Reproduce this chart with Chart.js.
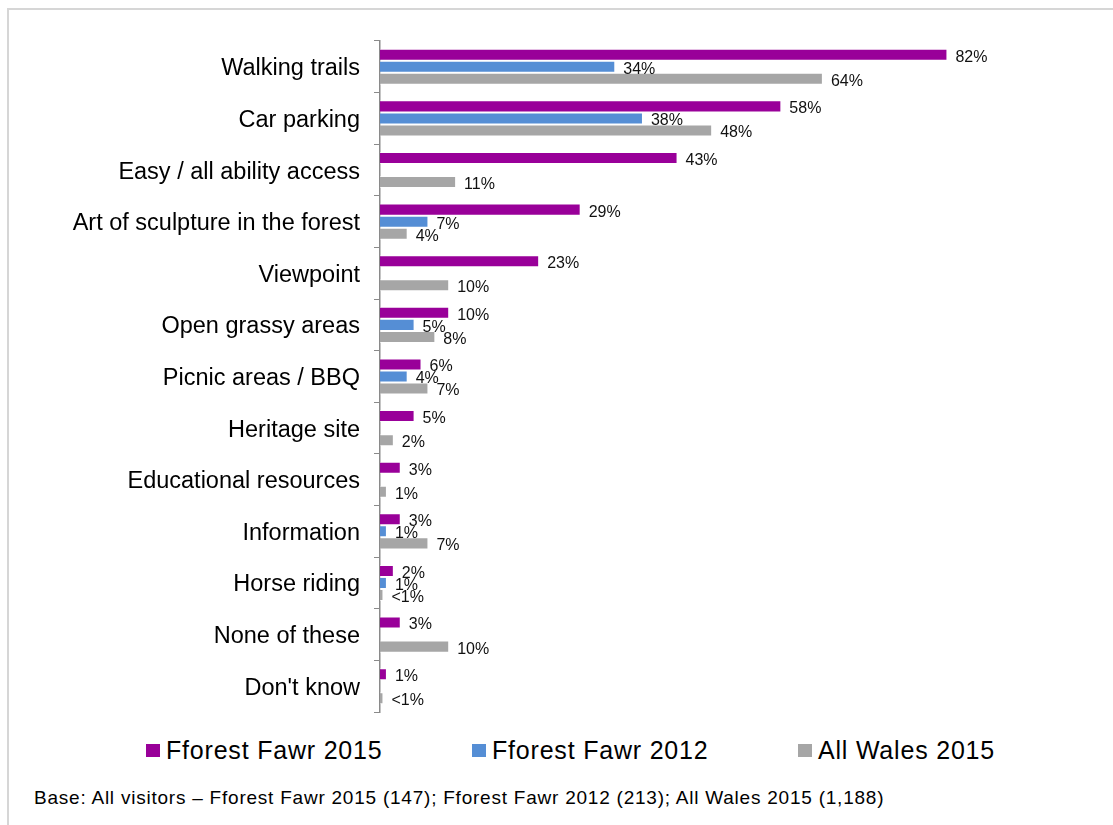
<!DOCTYPE html>
<html>
<head>
<meta charset="utf-8">
<title>Facilities used – Fforest Fawr</title>
<script src="https://cdn.jsdelivr.net/npm/chart.js@4.4.1/dist/chart.umd.min.js"></script>
<style>
  html, body { margin: 0; padding: 0; background: #fff; overflow: hidden; }
  body { width: 1113px; height: 825px; position: relative; font-family: "Liberation Sans", Arial, sans-serif; }
  #frame { position: absolute; left: 7px; top: 8px; width: 1200px; height: 900px;
           border-left: 2px solid #d6d6d6; border-top: 2px solid #d6d6d6; }
  #chart { position: absolute; left: 0; top: 0; }
  #legend { position: absolute; left: 146px; top: 733px; width: 849px; height: 34px;
            display: flex; justify-content: space-between; align-items: center; }
  #legend .item { display: flex; align-items: center; white-space: nowrap; }
  #legend .swatch { display: inline-block; width: 14px; height: 13px; margin-right: 6px; }
  #legend .text { font-size: 25px; letter-spacing: 0.8px; color: #000; line-height: 34px; }
  #note { position: absolute; left: 34px; top: 788px; font-size: 19px; letter-spacing: 0.77px;
          line-height: 20px; color: #000; white-space: nowrap; }
</style>
</head>
<body>
<div id="frame"></div>
<canvas id="chart" width="1113" height="720"></canvas>
<div id="legend"></div>
<div id="note">Base: All visitors – Fforest Fawr 2015 (147); Fforest Fawr 2012 (213); All Wales 2015 (1,188)</div>
<script>
// Facilities, in display order (top to bottom)
const categories = [
  'Walking trails',
  'Car parking',
  'Easy / all ability access',
  'Art of sculpture in the forest',
  'Viewpoint',
  'Open grassy areas',
  'Picnic areas / BBQ',
  'Heritage site',
  'Educational resources',
  'Information',
  'Horse riding',
  'None of these',
  "Don't know"
];

// Percent of visitors; null = not asked in that survey, 0.5 = under 1%
const fforestFawr2015 = [82, 58, 43, 29, 23, 10, 6, 5, 3, 3, 2, 3, 1];
const fforestFawr2012 = [34, 38, null, 7, null, 5, 4, null, null, 1, 1, null, null];
const allWales2015    = [64, 48, 11, 4, 10, 8, 7, 2, 1, 7, 0.5, 10, 0.5];

const seriesNames  = ['Fforest Fawr 2015', 'Fforest Fawr 2012', 'All Wales 2015'];
const seriesColors = ['#990099', '#558ed5', '#a6a6a6'];

const FONT = '"Liberation Sans", Arial, sans-serif';

function pctText(v) {
  return v < 1 ? '<1%' : Math.round(v) + '%';
}

// Writes the percentage just past the end of each bar
const valueLabels = {
  id: 'valueLabels',
  afterDatasetsDraw(chart) {
    const ctx = chart.ctx;
    ctx.save();
    ctx.font = '16px ' + FONT;
    ctx.fillStyle = '#111';
    ctx.textAlign = 'left';
    ctx.textBaseline = 'middle';
    chart.data.datasets.forEach((ds, i) => {
      const meta = chart.getDatasetMeta(i);
      meta.data.forEach((bar, j) => {
        const v = ds.data[j];
        if (v === null || v === undefined) return;
        ctx.fillText(pctText(v), bar.x + 8, bar.y + 2.5);
      });
    });
    ctx.restore();
  }
};

const seriesData = [fforestFawr2015, fforestFawr2012, allWales2015];

const chart = new Chart(document.getElementById('chart'), {
  type: 'bar',
  data: {
    labels: categories,
    datasets: seriesData.map((d, i) => ({
      label: seriesNames[i],
      data: d,
      backgroundColor: seriesColors[i],
      borderColor: 'rgba(255,255,255,0.55)',
      borderWidth: 1,
      categoryPercentage: 0.7,
      barPercentage: 1.0
    }))
  },
  options: {
    indexAxis: 'y',
    responsive: false,
    animation: false,
    devicePixelRatio: 1,
    layout: { padding: { top: 41, right: 41, bottom: 8, left: 0 } },
    plugins: {
      legend: { display: false },
      tooltip: { enabled: false },
      title: { display: false }
    },
    scales: {
      x: {
        display: false,
        min: 0,
        max: 100
      },
      y: {
        afterFit(scale) {
          scale.width = 380;
          scale.paddingTop = 0;
          scale.paddingBottom = 0;
        },
        ticks: {
          autoSkip: false,
          color: '#000',
          padding: 14,
          labelOffset: 2,
          font: { family: FONT, size: 23.5 }
        },
        grid: {
          display: true,
          offset: true,
          drawOnChartArea: false,
          drawTicks: true,
          tickLength: 6,
          color: '#8a8a8a',
          lineWidth: 1
        },
        border: { display: true, color: '#8a8a8a', width: 1.5 }
      }
    }
  },
  plugins: [valueLabels]
});

// Legend built from the chart's datasets
const legendEl = document.getElementById('legend');
chart.data.datasets.forEach(ds => {
  const item = document.createElement('div');
  item.className = 'item';
  const sw = document.createElement('span');
  sw.className = 'swatch';
  sw.style.background = ds.backgroundColor;
  const tx = document.createElement('span');
  tx.className = 'text';
  tx.textContent = ds.label;
  item.appendChild(sw);
  item.appendChild(tx);
  legendEl.appendChild(item);
});
</script>
</body>
</html>
